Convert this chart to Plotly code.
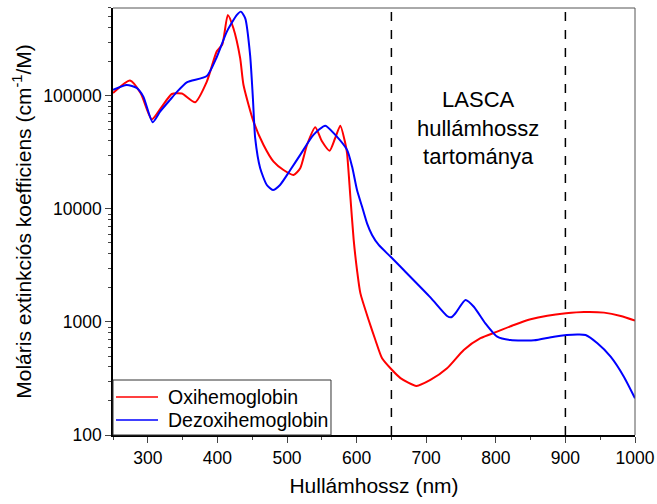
import plotly.graph_objects as go

# Oxyhemoglobin
oxy_nm = [250, 274.5, 290, 305.7, 320, 334.5, 349, 368, 384.8, 399, 407, 415, 423, 432.7, 437.5,
          451.9, 466.3, 480.7, 495, 509.4, 519, 528.7, 540.6, 550, 561.2, 569, 576.6, 583.8,
          586.3, 591, 595.8, 600.6, 605.4, 617.3, 627, 636.6, 651, 663, 686, 706, 730, 754,
          778, 802, 826, 850, 874, 900.8, 926.7, 955.5, 979.5, 1000]
oxy_val = [106000, 137000, 105000, 62000, 80000, 104000, 105000, 88000, 134000, 247000, 285000,
           521000, 397000, 216000, 125000, 59300, 36800, 26200, 22100, 20000, 22900, 36800, 52800,
           40000, 32800, 42000, 54600, 38000, 31000, 12900, 5320, 2880, 1800, 1042, 693, 478,
           376, 319, 272, 307, 389, 565, 718, 821, 940, 1057, 1137, 1194, 1225, 1210, 1130, 1028]

# Deoxyhemoglobin
deoxy_nm = [250, 269.7, 284, 293.6, 307, 317.6, 332, 341.6, 356, 384.8, 399, 413.6, 428, 433.7,
            440, 447, 451, 454.3, 461.5, 471, 479.8, 490, 504.7, 519, 538, 555, 569.4, 586.3,
            593.5, 600.6, 607.8, 615, 622.2, 631.8, 648.6, 667.7, 706, 730, 736, 742, 756.5,
            768.4, 785, 802, 821, 855, 883.5, 917, 929, 946, 965, 984, 1000]
deoxy_val = [113000, 125000, 118000, 98600, 58500, 72600, 92300, 108000, 132000, 150000, 220000,
             371000, 521000, 557000, 486000, 230000, 95500, 42300, 22900, 16300, 14700, 16300,
             22100, 30100, 45200, 54600, 45200, 33300, 23700, 14700, 10500, 7460, 5890, 4800,
             3790, 2880, 1650, 1130, 1100, 1194, 1566, 1365, 973, 741, 693, 688, 741, 773, 766,
             647, 493, 328, 211]

series_names = ["Oxihemoglobin", "Dezoxihemoglobin"]
series_colors = ["#ff0000", "#0000ff"]

y_ticks = [100, 1000, 10000, 100000]
y_ticktext = ["100", "1000", "10000", "100000"]
x_ticks = [300, 400, 500, 600, 700, 800, 900, 1000]
lasca_bounds = [650, 900]

minor_y = [m * 10 ** e for e in range(2, 6) for m in range(2, 10)]

fig = go.Figure()
for xs, ys, nm, col in [(oxy_nm, oxy_val, series_names[0], series_colors[0]),
                        (deoxy_nm, deoxy_val, series_names[1], series_colors[1])]:
    fig.add_trace(go.Scatter(x=xs, y=ys, mode="lines", name=nm, showlegend=False,
                             line=dict(color=col, width=2, shape="spline", smoothing=0.6)))

for xv in lasca_bounds:
    fig.add_shape(type="line", xref="x", yref="paper", x0=xv, x1=xv, y0=0, y1=1,
                  line=dict(color="black", width=1.5, dash="dash"))

# frame top / right
fig.add_shape(type="line", xref="paper", yref="paper", x0=0, x1=1, y0=1, y1=1,
              line=dict(color="#555555", width=1))
fig.add_shape(type="line", xref="paper", yref="paper", x0=1, x1=1, y0=0, y1=1,
              line=dict(color="#555555", width=1))

# legend box (drawn manually to match the reference layout)
fig.add_shape(type="rect", xref="paper", yref="paper", x0=0, x1=0.4176, y0=0, y1=0.1288,
              fillcolor="white", line=dict(color="#333333", width=1), layer="above")
for i, (nm, col) in enumerate(zip(series_names, series_colors)):
    yy = 0.0890 - i * 0.0539
    fig.add_shape(type="line", xref="paper", yref="paper", x0=0.0057, x1=0.0862, y0=yy, y1=yy,
                  line=dict(color=col, width=1.5), layer="above")
    fig.add_annotation(x=0.1015, y=yy, xref="paper", yref="paper", xanchor="left",
                       yanchor="middle", text=nm, showarrow=False,
                       font=dict(size=19.5, color="black"))

fig.add_annotation(x=775, y=0.719, xref="x", yref="paper", yanchor="middle",
                   text="LASCA<br>hullámhossz<br>tartománya", showarrow=False,
                   font=dict(size=22, color="black"), align="center")

fig.update_layout(
    width=657, height=504,
    margin=dict(l=113, r=22, t=8, b=69, autoexpand=False),
    paper_bgcolor="white", plot_bgcolor="white",
    font=dict(family="Liberation Sans, Arial", color="black", size=17),
    showlegend=False,
)
fig.update_xaxes(range=[250, 1000], tickvals=x_ticks, showline=True, linecolor="black",
                 linewidth=1.5, ticks="outside", ticklen=6, tickwidth=1.2, showgrid=False,
                 zeroline=False, tickfont=dict(size=17.5), automargin=False,
                 minor=dict(ticks="outside", ticklen=3, tickwidth=1.2, dtick=50, showgrid=False),
                 title=dict(text="Hullámhossz (nm)", font=dict(size=21), standoff=12))
fig.update_yaxes(type="log", range=[2, 5.778], tickvals=y_ticks, ticktext=y_ticktext,
                 showline=True, linecolor="black", linewidth=1.5, ticks="outside", ticklen=6,
                 tickwidth=1.2, showgrid=False, zeroline=False, tickfont=dict(size=17.5),
                 automargin=False,
                 minor=dict(ticks="outside", ticklen=3, tickwidth=1, tickvals=minor_y,
                            showgrid=False),
                 title=dict(text="Moláris extinkciós koefficiens (cm<sup>-1</sup>/M)",
                            font=dict(size=21), standoff=6))

fig.write_html("out.html")
